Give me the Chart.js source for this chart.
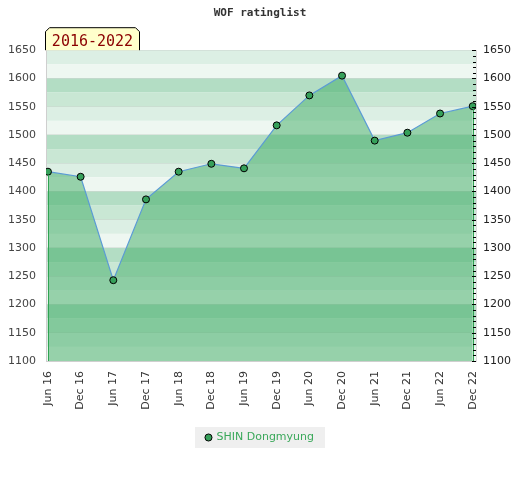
<!DOCTYPE html>
<html>
<head>
<meta charset="utf-8">
<script src="https://cdn.jsdelivr.net/npm/chart.js@4/dist/chart.umd.min.js"></script>
<style>
  html, body { margin: 0; padding: 0; background: #fff; }
  #wrap { width: 520px; height: 480px; }
</style>
</head>
<body>
<div id="wrap"><canvas id="ratingChart"></canvas></div>
<script>
"use strict";

const periodLabels = [
  "Jun 16", "Dec 16", "Jun 17", "Dec 17", "Jun 18", "Dec 18", "Jun 19",
  "Dec 19", "Jun 20", "Dec 20", "Jun 21", "Dec 21", "Jun 22", "Dec 22",
];
const ratings = [
  1435, 1426, 1243, 1386, 1435, 1449, 1441,
  1517, 1570, 1605, 1490, 1504, 1538, 1551,
];
const playerName = "SHIN Dongmyung";
const rangeText = "2016-2022";
const yMin = 1100;
const yMax = 1650;

// stripes repeat every 100 points, four bands of 25
const stripeColors = ["#b3ddc4", "#c9e7d4", "#dcefe4", "#eef7f1"];

const points = ratings.map((v, i) => ({ x: i, y: v }));

const stripes = {
  id: "stripes",
  beforeDraw(chart) {
    const { ctx, chartArea, scales } = chart;
    const y = scales.y;
    ctx.save();
    for (let v = yMax + 50; v > yMin; v -= 25) {
      const top = Math.max(v, yMin);
      const bot = Math.max(v - 25, yMin);
      if (top > yMax && bot >= yMax) continue;
      const idx = (((1700 - v) / 25) % 4 + 4) % 4;
      const y1 = y.getPixelForValue(Math.min(top, yMax));
      const y2 = y.getPixelForValue(bot);
      ctx.fillStyle = stripeColors[idx];
      ctx.fillRect(chartArea.left, y1, chartArea.right - chartArea.left, y2 - y1);
    }
    ctx.restore();

    // grey box behind the legend
    const lg = chart.legend;
    if (lg && lg.legendHitBoxes && lg.legendHitBoxes.length) {
      const hb = lg.legendHitBoxes[0];
      ctx.save();
      ctx.fillStyle = "#efefef";
      ctx.fillRect(hb.left - 11, hb.top + hb.height / 2 - 10.5, hb.width + 22, 21);
      ctx.restore();
    }
  },
  afterDatasetsDraw(chart) {
    const { ctx, chartArea, scales } = chart;
    const meta = chart.getDatasetMeta(0);
    const first = meta.data[0];
    const last = meta.data[meta.data.length - 1];
    ctx.save();
    // green edges of the area fill
    ctx.strokeStyle = "#2fa352";
    ctx.lineWidth = 1;
    ctx.beginPath();
    ctx.moveTo(Math.round(first.x) + 0.5, first.y + 3);
    ctx.lineTo(Math.round(first.x) + 0.5, chartArea.bottom);
    ctx.moveTo(Math.round(last.x) + 0.5, last.y + 3);
    ctx.lineTo(Math.round(last.x) + 0.5, chartArea.bottom);
    ctx.stroke();

    // small ticks on the right axis, every 10 points
    ctx.strokeStyle = "#000";
    ctx.beginPath();
    for (let v = yMin; v <= yMax; v += 10) {
      const py = Math.round(scales.y2.getPixelForValue(v)) + 0.5;
      const len = v % 50 === 0 ? 4 : 3;
      ctx.moveTo(chartArea.right - len, py);
      ctx.lineTo(chartArea.right, py);
    }
    ctx.stroke();
    ctx.restore();
  },
  afterDraw(chart) {
    // year range tab at top left
    const { ctx, chartArea } = chart;
    const l = chartArea.left - 1;
    const r = l + 95;
    const t = chartArea.top - 23;
    const b = chartArea.top;
    ctx.save();
    ctx.beginPath();
    ctx.moveTo(l + 0.5, b);
    ctx.lineTo(l + 0.5, t + 4.5);
    ctx.lineTo(l + 4.5, t + 0.5);
    ctx.lineTo(r - 4.5, t + 0.5);
    ctx.lineTo(r - 0.5, t + 4.5);
    ctx.lineTo(r - 0.5, b);
    ctx.fillStyle = "#ffffcc";
    ctx.fill();
    ctx.strokeStyle = "#000";
    ctx.lineWidth = 1;
    ctx.stroke();
    ctx.fillStyle = "#8b0000";
    ctx.font = "15px 'DejaVu Sans Mono'";
    ctx.textAlign = "center";
    ctx.textBaseline = "alphabetic";
    ctx.fillText(rangeText, (l + r) / 2, b - 4.5);
    ctx.restore();
  },
};

const tickFont = { family: "'DejaVu Sans'", size: 11 };
const plainNumber = (v) => String(v);

new Chart(document.getElementById("ratingChart"), {
  type: "line",
  data: {
    datasets: [
      {
        label: playerName,
        data: points,
        borderColor: "#5b9bd5",
        borderWidth: 1.2,
        backgroundColor: "rgba(62, 172, 99, 0.5)",
        fill: "start",
        tension: 0,
        pointRadius: 3.5,
        pointBackgroundColor: "#36a05a",
        pointBorderColor: "#000",
        pointBorderWidth: 1,
      },
    ],
  },
  options: {
    responsive: true,
    maintainAspectRatio: false,
    animation: false,
    layout: { padding: { bottom: 27 } },
    plugins: {
      title: {
        display: true,
        text: "WOF ratinglist",
        color: "#333",
        font: { family: "'DejaVu Sans Mono'", size: 11, weight: "bold" },
        padding: { top: 7, bottom: 30 },
      },
      legend: {
        position: "bottom",
        labels: {
          usePointStyle: true,
          boxWidth: 5,
          boxHeight: 5,
          color: "#3aa85a",
          font: tickFont,
          padding: 10,
          generateLabels: () => [
            {
              text: playerName,
              fillStyle: "#36a05a",
              strokeStyle: "#000",
              lineWidth: 1,
              pointStyle: "circle",
              fontColor: "#3aa85a",
              datasetIndex: 0,
            },
          ],
        },
      },
      tooltip: { enabled: false },
    },
    scales: {
      x: {
        type: "linear",
        min: -0.06,
        max: 13.1,
        afterBuildTicks: (scale) => {
          scale.ticks = periodLabels.map((_, i) => ({ value: i }));
        },
        afterFit: (scale) => { scale.height = 61; },
        ticks: {
          callback: (v) => periodLabels[v] ?? "",
          minRotation: 90,
          maxRotation: 90,
          autoSkip: false,
          color: "#333",
          font: tickFont,
          padding: 10,
        },
        grid: { display: false, drawTicks: false },
        border: { display: true, color: "#cfcfcf" },
      },
      y: {
        position: "left",
        min: yMin,
        max: yMax,
        afterFit: (scale) => { scale.width = 46; },
        ticks: { stepSize: 50, color: "#444", font: tickFont, padding: 10, callback: plainNumber },
        grid: { color: "rgba(0,0,0,0.07)", drawTicks: false },
        border: { display: true, color: "#cfcfcf" },
      },
      y2: {
        position: "right",
        min: yMin,
        max: yMax,
        afterFit: (scale) => { scale.width = 44; },
        ticks: { stepSize: 50, color: "#222", font: tickFont, padding: 7, callback: plainNumber },
        grid: { drawOnChartArea: false, drawTicks: false },
        border: { display: true, color: "#dcdcdc" },
      },
    },
  },
  plugins: [stripes],
});
</script>
</body>
</html>
